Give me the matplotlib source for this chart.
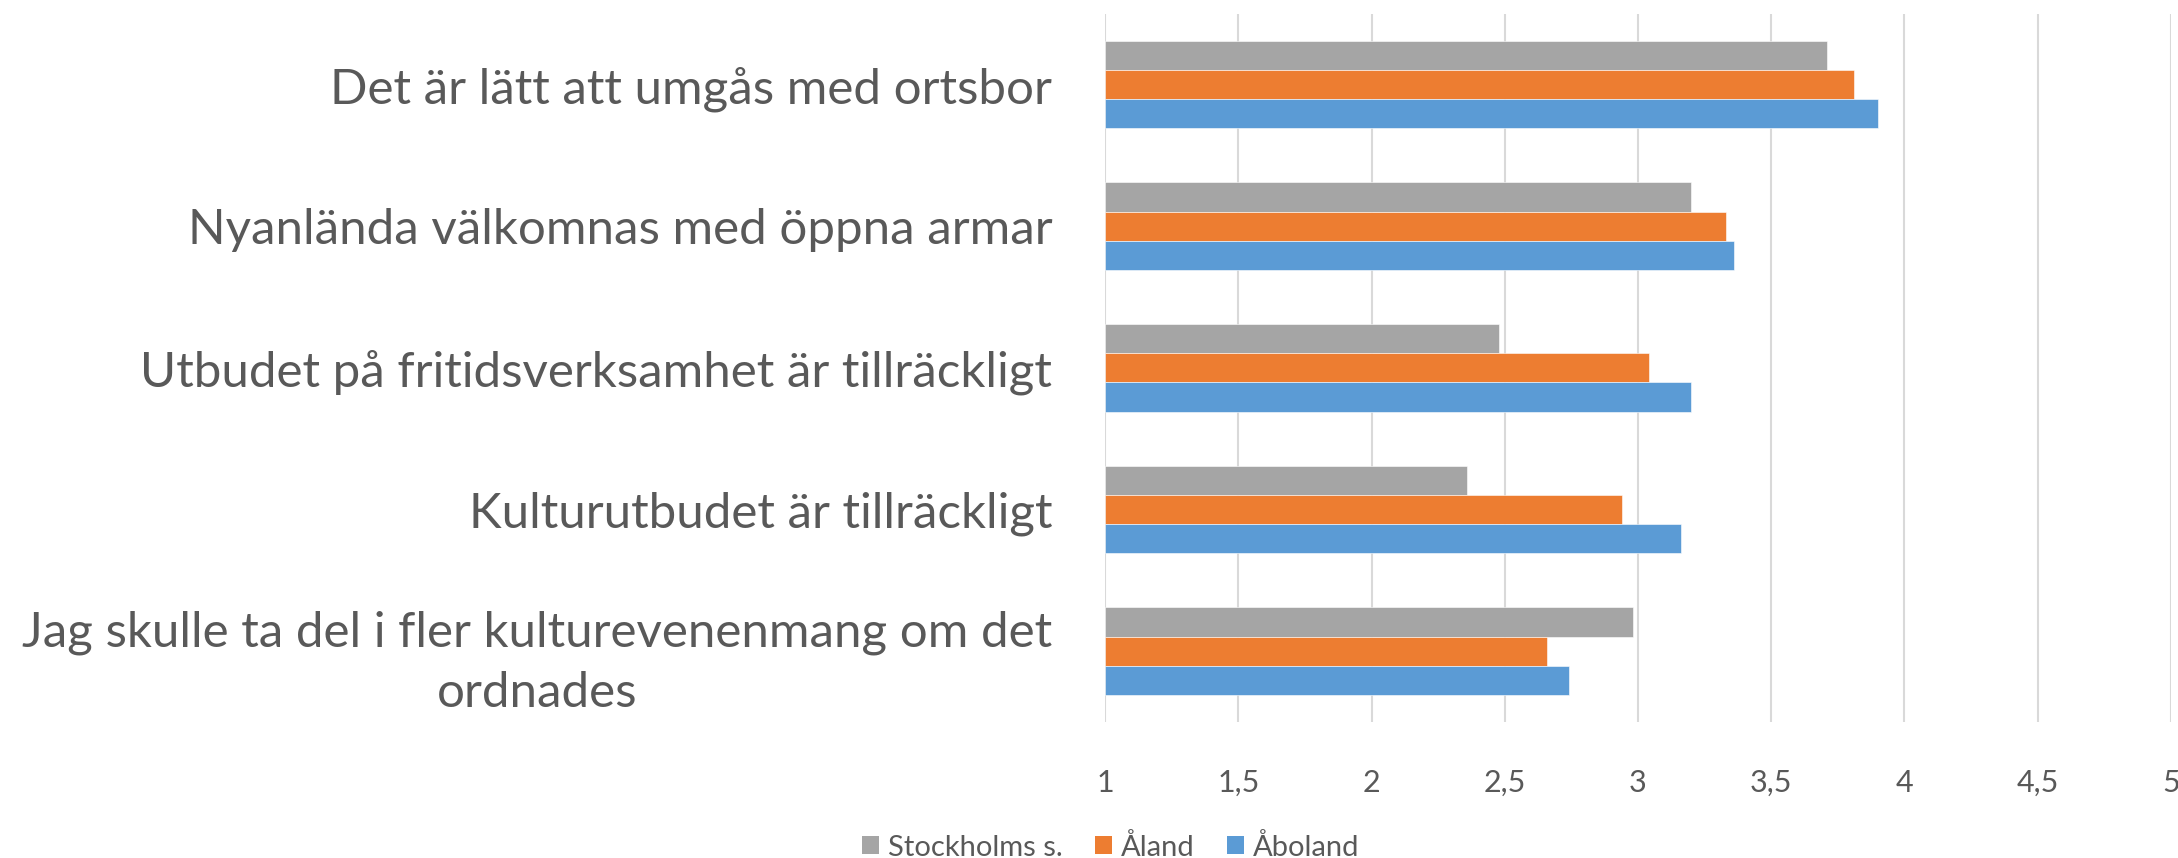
import numpy as np
import matplotlib
matplotlib.use('Agg')
import matplotlib.pyplot as plt
from matplotlib.patches import Patch

plt.rcParams['font.family'] = ['Lato', 'DejaVu Sans']

# --- Data ---
categories = [
    'Det är lätt att umgås med ortsbor',
    'Nyanlända välkomnas med öppna armar',
    'Utbudet på fritidsverksamhet är tillräckligt',
    'Kulturutbudet är tillräckligt',
    'Jag skulle ta del i fler kulturevenenmang om det\nordnades',
]
series_names = ['Stockholms s.', 'Åland', 'Åboland']
stockholm = [3.71, 3.20, 2.48, 2.36, 2.98]
aland = [3.81, 3.33, 3.04, 2.94, 2.66]
aboland = [3.90, 3.36, 3.20, 3.16, 2.74]
xticks = [1, 1.5, 2, 2.5, 3, 3.5, 4, 4.5, 5]
xtick_labels = ['1', '1,5', '2', '2,5', '3', '3,5', '4', '4,5', '5']

# --- Style ---
COL_GRAY = '#A5A5A5'
COL_ORANGE = '#ED7D31'
COL_BLUE = '#5B9BD5'
COL_TEXT = '#595959'
COL_GRID = '#D9D9D9'

fig = plt.figure(figsize=(21.78, 8.58), dpi=100)
ax = fig.add_axes([0.5074, 0.1585, 0.4893, 0.8255])

y = np.arange(len(categories))
h = 0.206
base = 1.0
for vals, off, col in [(stockholm, -h, COL_GRAY), (aland, 0, COL_ORANGE), (aboland, h, COL_BLUE)]:
    ax.barh(y + off, np.array(vals) - base, left=base, height=h, color=col,
            edgecolor='white', linewidth=0.4, zorder=3)

ax.set_xlim(1, 5)
ax.set_ylim(len(categories) - 0.5, -0.5)
ax.set_xticks(xticks)
ax.set_xticklabels(xtick_labels)
ax.set_yticks(y)
ax.set_yticklabels(categories, multialignment='center', linespacing=1.43)
ax.tick_params(axis='x', length=0, pad=34, labelsize=22, labelcolor=COL_TEXT)
ax.tick_params(axis='y', length=0, pad=38, labelsize=35.5, labelcolor=COL_TEXT)
ax.grid(axis='x', color=COL_GRID, linewidth=1.5, zorder=0)
for s in ax.spines.values():
    s.set_visible(False)

handles = [Patch(facecolor=c, label=n) for c, n in zip([COL_GRAY, COL_ORANGE, COL_BLUE], series_names)]
leg = fig.legend(handles=handles, loc='center', bbox_to_anchor=(0.51, 0.0128), ncol=3, frameon=False,
                 fontsize=21, labelcolor=COL_TEXT, handlelength=0.6, handleheight=0.6,
                 handletextpad=0.3, columnspacing=1.1, borderpad=0)

fig.savefig('out.png', dpi=100, facecolor='white')
